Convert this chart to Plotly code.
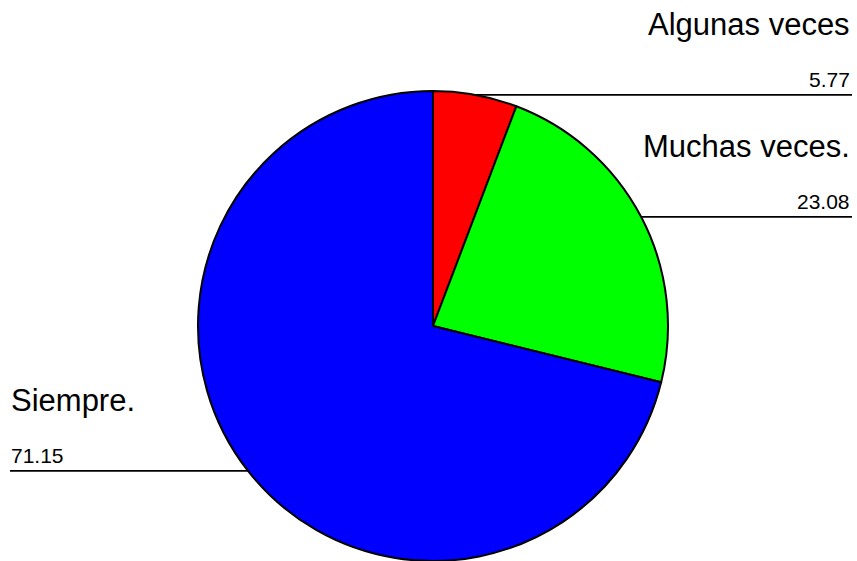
import math
import plotly.graph_objects as go

# Survey answers and their percentages
categories = ["Algunas veces", "Muchas veces.", "Siempre."]
values = [5.77, 23.08, 71.15]
colors = ["#FF0000", "#00FF00", "#0000FF"]

W, H = 857, 561

# Pie placement in pixels (top of pie at y=91, bottom at canvas bottom)
cx, top_px = 433.0, 91.0
R = (H - top_px) / 2.0
cy = top_px + R

fig = go.Figure(
    go.Pie(
        labels=categories,
        values=values,
        sort=False,
        direction="clockwise",
        rotation=0,
        marker=dict(colors=colors, line=dict(color="black", width=2)),
        textinfo="none",
        hoverinfo="skip",
        showlegend=False,
        domain=dict(x=[(cx - R) / W, (cx + R) / W], y=[0, (H - top_px) / H]),
    )
)


def px(x):
    return x / W


def py(y):
    return 1 - y / H


shapes = []
annotations = []
total = sum(values)
cum = 0.0
for name, val in zip(categories, values):
    mid = (cum + val / 2) / total * 2 * math.pi
    cum += val
    ex = cx + R * math.sin(mid)
    ey = cy - R * math.cos(mid)
    right = math.sin(mid) >= 0
    x_end = W - 5 if right else 10
    shapes.append(dict(type="line", xref="paper", yref="paper",
                       x0=px(ex), y0=py(ey), x1=px(x_end), y1=py(ey),
                       line=dict(color="black", width=1.8)))
    tx = W - 5 if right else 9
    anchor = "right" if right else "left"
    annotations.append(dict(xref="paper", yref="paper", x=px(tx), y=py(ey - 15),
                            text=f"{val:.2f}", showarrow=False,
                            xanchor=anchor, yanchor="middle",
                            font=dict(family="Liberation Sans, Arial", size=21, color="black")))
    annotations.append(dict(xref="paper", yref="paper", x=px(tx), y=py(ey - 70),
                            text=name, showarrow=False,
                            xanchor=anchor, yanchor="middle",
                            font=dict(family="Liberation Sans, Arial", size=31, color="black")))

fig.update_layout(
    width=W, height=H,
    margin=dict(l=0, r=0, t=0, b=0),
    paper_bgcolor="white", plot_bgcolor="white",
    shapes=shapes, annotations=annotations,
)

fig.write_html("out.html")
